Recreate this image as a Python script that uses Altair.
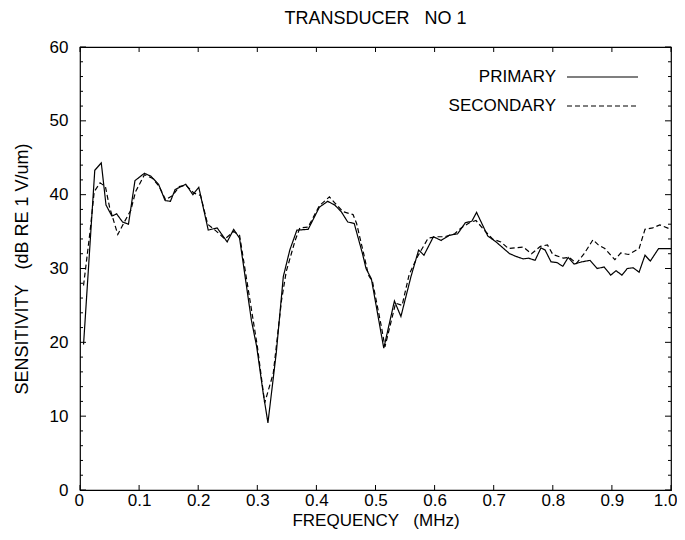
import altair as alt
import pandas as pd

# ---- data ----
primary_f = [0.006, 0.025, 0.036, 0.044, 0.054, 0.062, 0.072, 0.082, 0.093, 0.109,
             0.120, 0.133, 0.144, 0.153, 0.161, 0.179, 0.191, 0.201, 0.217, 0.232,
             0.249, 0.260, 0.270, 0.290, 0.299, 0.310, 0.318, 0.332, 0.344, 0.355,
             0.367, 0.386, 0.405, 0.419, 0.431, 0.442, 0.453, 0.464, 0.478, 0.484,
             0.493, 0.514, 0.532, 0.543, 0.560, 0.573, 0.582, 0.598, 0.611, 0.625,
             0.639, 0.652, 0.663, 0.671, 0.690, 0.704, 0.727, 0.739, 0.750, 0.759,
             0.770, 0.780, 0.787, 0.797, 0.807, 0.817, 0.826, 0.836, 0.849, 0.863,
             0.875, 0.887, 0.898, 0.907, 0.917, 0.926, 0.936, 0.946, 0.956, 0.965,
             0.979, 1.000]
primary_v = [19.7, 43.3, 44.3, 38.6, 37.1, 37.4, 36.3, 36.0, 41.9, 42.9,
             42.5, 41.4, 39.2, 39.1, 40.7, 41.4, 40.0, 41.0, 35.2, 35.5,
             33.6, 35.3, 34.1, 23.0, 19.4, 13.1, 9.1, 18.5, 28.9, 32.5,
             35.2, 35.3, 38.3, 39.1, 38.6, 37.7, 36.3, 36.1, 32.0, 30.0,
             28.6, 19.2, 25.6, 23.5, 28.9, 32.5, 31.8, 34.3, 33.8, 34.5,
             34.7, 36.2, 36.4, 37.6, 34.4, 33.6, 32.0, 31.6, 31.3, 31.4,
             31.1, 32.8, 32.5, 30.9, 30.8, 30.3, 31.5, 30.6, 30.9, 31.1,
             30.0, 30.2, 29.1, 29.7, 29.1, 30.0, 30.1, 29.5, 31.8, 31.0,
             32.7, 32.7]

secondary_f = [0.006, 0.017, 0.024, 0.034, 0.043, 0.050, 0.064, 0.075, 0.086, 0.094,
               0.109, 0.123, 0.134, 0.145, 0.157, 0.168, 0.179, 0.193, 0.204, 0.216,
               0.230, 0.245, 0.260, 0.270, 0.290, 0.300, 0.3125, 0.327, 0.341, 0.349,
               0.364, 0.372, 0.386, 0.405, 0.422, 0.431, 0.445, 0.462, 0.468, 0.480,
               0.488, 0.495, 0.510, 0.516, 0.534, 0.545, 0.557, 0.571, 0.589, 0.603,
               0.617, 0.634, 0.645, 0.659, 0.670, 0.684, 0.698, 0.712, 0.725, 0.737,
               0.750, 0.764, 0.779, 0.791, 0.800, 0.818, 0.828, 0.840, 0.853, 0.868,
               0.877, 0.888, 0.905, 0.915, 0.928, 0.946, 0.956, 0.969, 0.981, 1.000]
secondary_v = [27.7, 35.0, 40.4, 41.6, 41.1, 38.3, 34.6, 36.3, 37.9, 40.4,
               42.7, 42.2, 41.1, 39.3, 39.9, 41.1, 41.3, 40.2, 39.9, 36.0,
               35.1, 34.0, 35.0, 34.5, 24.5, 19.5, 11.8, 15.8, 25.7, 29.6,
               33.8, 35.5, 35.6, 38.5, 39.7, 38.9, 37.7, 37.3, 36.1, 32.0,
               29.1, 28.2, 22.1, 19.4, 25.3, 25.0, 29.2, 31.6, 34.1, 34.3,
               34.3, 34.7, 35.5, 36.2, 36.5, 35.2, 34.0, 33.6, 32.7, 32.8,
               32.9, 32.0, 33.0, 33.2, 31.9, 31.4, 31.5, 30.7, 32.0, 33.9,
               33.2, 32.7, 31.2, 32.1, 31.9, 32.7, 35.3, 35.5, 35.9, 35.3]

x_ticks = [0.0, 0.1, 0.2, 0.3, 0.4, 0.5, 0.6, 0.7, 0.8, 0.9, 1.0]
y_major = [0, 10, 20, 30, 40, 50, 60]
y_minor = [v for v in range(0, 61, 2) if v % 10 != 0]

series_names = ["PRIMARY", "SECONDARY"]
NB = "\u00a0"
title_text = "TRANSDUCER" + NB + NB + " NO 1"
x_title = "FREQUENCY" + NB + NB + " (MHz)"
y_title = "SENSITIVITY" + NB + NB + " (dB RE 1 V/um)"

W, H = 591, 443
FONT = "Liberation Sans"

df = pd.concat([
    pd.DataFrame({"f": primary_f, "v": primary_v, "series": series_names[0]}),
    pd.DataFrame({"f": secondary_f, "v": secondary_v, "series": series_names[1]}),
])

xscale = alt.Scale(domain=[0, 1], nice=False, zero=False)
yscale = alt.Scale(domain=[0, 60], nice=False, zero=True)

lines = alt.Chart(df).mark_line(color="black", strokeWidth=1.2).encode(
    x=alt.X("f:Q", scale=xscale,
            axis=alt.Axis(values=x_ticks, title=x_title, labelFlush=True,
                          labelFlushOffset=6,
                          labelExpr="datum.value == 0 ? '0' : format(datum.value, '.1f')",
                          labelPadding=2, titlePadding=4)),
    y=alt.Y("v:Q", scale=yscale,
            axis=alt.Axis(values=y_major, title=y_title, labelPadding=12, titlePadding=18,
                          titleFontSize=18)),
    strokeDash=alt.StrokeDash("series:N",
                              scale=alt.Scale(domain=series_names, range=[[1, 0], [5, 3]]),
                              legend=None),
    detail="series:N",
)

ymaj = pd.DataFrame({"v": y_major})
ymin = pd.DataFrame({"v": y_minor})
xt = pd.DataFrame({"f": x_ticks})

def yticks(data, length):
    left = alt.Chart(data).mark_rule(color="black", strokeWidth=1).encode(
        y=alt.Y("v:Q", scale=yscale), x=alt.value(0), x2=alt.value(length))
    right = alt.Chart(data).mark_rule(color="black", strokeWidth=1).encode(
        y=alt.Y("v:Q", scale=yscale), x=alt.value(W), x2=alt.value(W - length))
    return [left, right]

def xticks(data, length):
    bottom = alt.Chart(data).mark_rule(color="black", strokeWidth=1).encode(
        x=alt.X("f:Q", scale=xscale), y=alt.value(H), y2=alt.value(H - length))
    top = alt.Chart(data).mark_rule(color="black", strokeWidth=1).encode(
        x=alt.X("f:Q", scale=xscale), y=alt.value(0), y2=alt.value(length))
    return [bottom, top]

ticks = yticks(ymaj, 6) + yticks(ymin, 3) + xticks(xt, 5)

leg_df = pd.DataFrame({"series": series_names})
leg_p_text = alt.Chart(leg_df.iloc[[0]]).mark_text(
    align="right", baseline="middle", font=FONT, fontSize=17, color="black").encode(
    text="series:N", x=alt.value(476), y=alt.value(30))
leg_s_text = alt.Chart(leg_df.iloc[[1]]).mark_text(
    align="right", baseline="middle", font=FONT, fontSize=17, color="black").encode(
    text="series:N", x=alt.value(476), y=alt.value(59))
leg_p_line = alt.Chart(leg_df.iloc[[0]]).mark_rule(color="black", strokeWidth=1.2).encode(
    x=alt.value(487), x2=alt.value(558), y=alt.value(30))
leg_s_line = alt.Chart(leg_df.iloc[[1]]).mark_rule(color="black", strokeWidth=1.2,
                                                   strokeDash=[5, 3]).encode(
    x=alt.value(487), x2=alt.value(558), y=alt.value(59))

chart = alt.layer(lines, *ticks, leg_p_text, leg_s_text, leg_p_line, leg_s_line).properties(
    width=W, height=H,
    background="white",
    title=alt.TitleParams(title_text, font=FONT, fontSize=18, fontWeight="normal",
                          color="black", anchor="middle", offset=10),
    autosize=alt.AutoSizeParams(type="none"),
    padding={"left": 72, "top": 39, "right": 6, "bottom": 40},
).configure_view(
    stroke="black", strokeWidth=1.2
).configure_axis(
    grid=False, domain=False, ticks=False, tickSize=0,
    labelFont=FONT, titleFont=FONT, labelFontSize=17, titleFontSize=17,
    labelColor="black", titleColor="black", titleFontWeight="normal",
)

chart.save("out.html", embed_options={"renderer": "svg", "actions": False})
